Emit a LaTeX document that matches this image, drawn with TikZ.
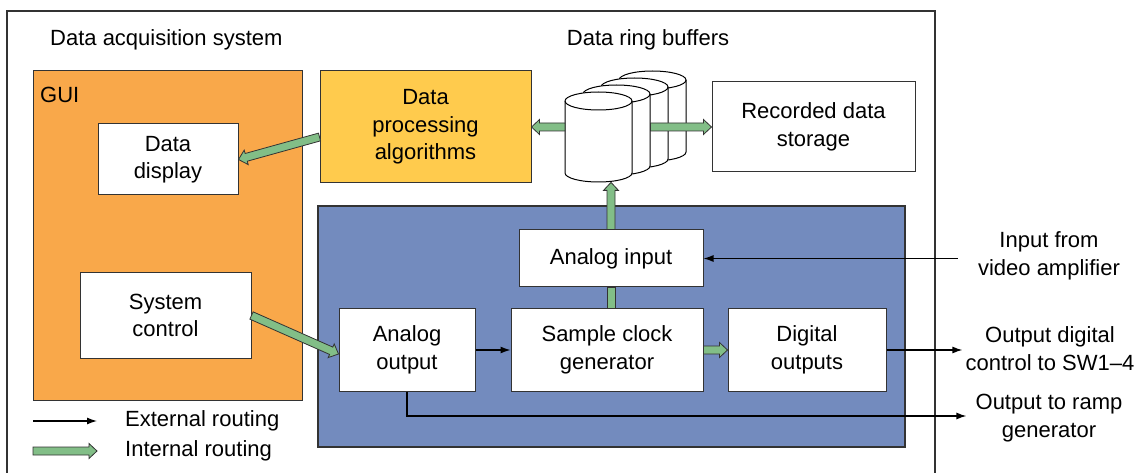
\documentclass[tikz,border=0pt]{standalone}
\usepackage{fontspec}
\setmainfont{Liberation Sans}
\usetikzlibrary{calc,arrows.meta}

\definecolor{guiorange}{HTML}{F9A84A}
\definecolor{procyellow}{HTML}{FFCB4D}
\definecolor{hwblue}{HTML}{738BBE}
\definecolor{routegreen}{HTML}{82BE87}
\definecolor{edgegray}{HTML}{333333}

\tikzset{
  txt/.style={font=\fontsize{22}{28}\selectfont, align=center, inner sep=0pt},
  panel/.style={draw=edgegray, line width=1pt, inner sep=0pt},
  box/.style={draw=edgegray, line width=1pt, fill=white, inner sep=0pt,
              align=center, font=\fontsize{22}{27.5}\selectfont},
  ext/.style={line width=1.3pt, -{Latex[length=10pt,width=7pt]}},
  garrow/.style={fill=routegreen, draw=edgegray, line width=0.8pt, line join=miter},
  drum/.style={fill=white, draw=black, line width=1pt}
}

% thick outlined arrow from #1 to #2
\newcommand\greenarrow[2]{%
  \coordinate (ga-s) at (#1);
  \coordinate (ga-e) at (#2);
  \coordinate (ga-n) at ($(ga-e)!8pt!(ga-s)$);
  \filldraw[garrow] ($(ga-s)!4pt!90:(ga-e)$) -- ($(ga-n)!4pt!-90:(ga-s)$)
    -- ($(ga-n)!7.5pt!-90:(ga-s)$) -- (ga-e) -- ($(ga-n)!7.5pt!90:(ga-s)$)
    -- ($(ga-n)!4pt!90:(ga-s)$) -- ($(ga-s)!4pt!-90:(ga-e)$) -- cycle;
}

% one buffer drum: #1 left x, #2 top-ellipse centre y, #3 name
\newcommand\drum[3]{%
  \filldraw[drum] (#1,#2) -- ++(0,-72)
    arc[start angle=180, end angle=360, x radius=33.5pt, y radius=9pt]
    -- ++(0,72)
    arc[start angle=0, end angle=180, x radius=33.5pt, y radius=9pt] -- cycle;
  \draw[drum, fill=none] (#1,#2)
    arc[start angle=180, end angle=360, x radius=33.5pt, y radius=9pt];
  \node[inner sep=0pt, minimum width=67pt, minimum height=90pt, anchor=north west]
    (#3) at (#1,#2+9) {};
}

\begin{document}
\begin{tikzpicture}[x=1pt, y=1pt]
\useasboundingbox (0,0) rectangle (1144,-473);

% system frame (open at the bottom)
\draw[edgegray, line width=1.2pt] (7,-474) -- (7,-11) -- (935,-11) -- (935,-474);

\node[txt, anchor=west] (title) at (50,-40) {Data acquisition system};
\node[txt] (ringlbl) at (648,-40) {Data ring buffers};

% GUI area
\node[panel, fill=guiorange, minimum width=269pt, minimum height=329pt] (gui) at (167.5,-235.5) {};
\node[txt, anchor=west] (guilbl) at (40,-95) {GUI};
\node[box, minimum width=140pt, minimum height=71pt] (disp) at (168,-159.5) {Data\\display};
\node[box, minimum width=171pt, minimum height=85pt] (sys) at (165.5,-315.5) {System\\control};

% processing and storage
\node[box, fill=procyellow, minimum width=211pt, minimum height=112pt] (proc) at (425.5,-127) {Data\\processing\\algorithms};
\node[box, minimum width=203pt, minimum height=90pt] (store) at (813.5,-127) {Recorded data\\storage};

% ring buffers, back to front
\drum{619}{-80}{buf4}
\drum{601}{-87}{buf3}
\drum{583}{-94}{buf2}
\drum{565}{-101}{buf1}

% acquisition hardware
\node[panel, fill=hwblue, line width=1.2pt, minimum width=587pt, minimum height=241pt] (hw) at (611.5,-326.5) {};
\node[box, minimum width=184pt, minimum height=57pt] (ain) at (611,-258.5) {Analog input};
\node[box, minimum width=136pt, minimum height=82pt] (aout) at (407,-350) {Analog\\output};
\node[box, minimum width=192pt, minimum height=82pt] (clk) at (607,-350) {Sample clock\\generator};
\node[box, minimum width=158pt, minimum height=82pt] (dout) at (807,-350) {Digital\\outputs};

% external signals
\node[txt] (video) at (1049,-256) {Input from\\video amplifier};
\node[txt] (outdig) at (1050,-349) {Output digital\\control to SW1--4};
\node[txt] (ramp) at (1049,-418) {Output to ramp\\generator};

% internal routing
\greenarrow{[yshift=-10pt]proc.west}{disp.east}
\greenarrow{buf1.west |- proc.east}{proc.east}
\greenarrow{buf2.east |- store.west}{store.west}
\greenarrow{ain.north}{ain.north |- buf1.south}
\filldraw[garrow] ([xshift=-4pt]ain.south) rectangle ([xshift=4pt]ain.south |- clk.north);
\greenarrow{sys.east}{[yshift=-4pt]aout.west}
\greenarrow{clk.east}{dout.west}

% external routing
\draw[ext] (aout.east) -- (clk.west);
\draw[ext] ([xshift=-20pt]video.west |- ain.east) -- (ain.east);
\draw[ext] (dout.east) -- ([xshift=-3pt]dout.east -| outdig.west);
\draw[ext] (aout.south) |- ([xshift=-9pt,yshift=2pt]ramp.west);

% legend
\coordinate (lgExtA) at (33,-421);
\coordinate (lgExtB) at (97,-421);
\coordinate (lgIntA) at (33,-451);
\coordinate (lgIntB) at (97,-451);
\draw[ext] (lgExtA) -- (lgExtB);
\greenarrow{lgIntA}{lgIntB}
\node[txt, anchor=west] (lgExt) at (125,-421) {External routing};
\node[txt, anchor=west] (lgInt) at (125,-451) {Internal routing};
\end{tikzpicture}
\end{document}
